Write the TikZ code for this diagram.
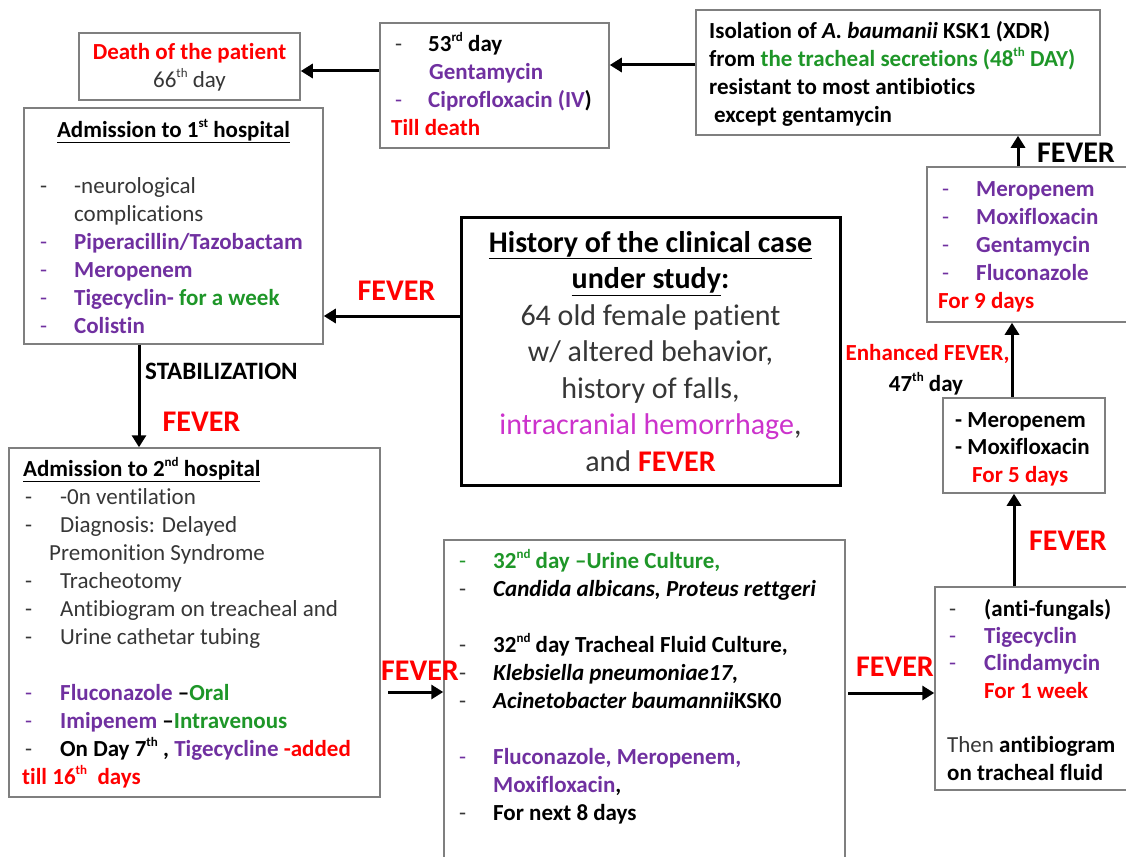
\documentclass[tikz,border=0pt]{standalone}
\usepackage{fontspec}
\setmainfont{Carlito}[Ligatures={TeX,NoCommon}]
\usetikzlibrary{arrows.meta}
\definecolor{pur}{HTML}{7030A0}
\definecolor{grn}{HTML}{1E9628}
\definecolor{rd}{HTML}{FF0000}
\definecolor{mag}{HTML}{CC33CC}
\definecolor{txtg}{HTML}{363636}
\definecolor{bord}{HTML}{7F7F7F}
\newcommand\dsh[2][34pt]{\makebox[#1][l]{\mdseries\color{#2}-}}
\newcommand\st[1]{\rule{0pt}{#1}}
\newcommand\sups[1]{\raisebox{0.42em}{\fontsize{13}{13}\selectfont #1}}
\newcommand\tbk[1]{{\bfseries\color{black}#1}}
\newcommand\tbp[1]{{\bfseries\color{pur}#1}}
\newcommand\tbr[1]{{\bfseries\color{rd}#1}}
\newcommand\tbg[1]{{\bfseries\color{grn}#1}}
\begin{document}
\begin{tikzpicture}[x=1pt,y=-1pt,
  box/.style={draw=bord, line width=1.5pt, inner sep=0pt, rectangle},
  txt/.style={inner sep=0pt, align=left, anchor=north west, font=\fontsize{23}{28}\selectfont, text=txtg},
  lab/.style={inner sep=0pt, font=\fontsize{30}{36}\selectfont\bfseries, text=rd},
  arr/.style={line width=3pt, -{Triangle[length=12pt,width=14pt]}}]
\useasboundingbox (0,0) rectangle (1126,856);
% boxes
\node[box, minimum width=221, minimum height=67] (death) at (189.5,66.5) {};
\node[box, minimum width=299, minimum height=236] (h1) at (173.5,226) {};
\node[box, minimum width=229, minimum height=125] (b53) at (494.5,85.5) {};
\node[box, minimum width=404, minimum height=125] (iso) at (898,72.5) {};
\node[box, minimum width=208, minimum height=155] (d4) at (1031,244.5) {};
\node[box, draw=black, line width=3pt, minimum width=379, minimum height=268] (hist) at (650.5,351) {};
\node[box, minimum width=371, minimum height=349] (h2) at (194.5,622.5) {};
\node[box, minimum width=401, minimum height=335] (mid) at (644.5,707.5) {};
\node[box, minimum width=205, minimum height=203] (rb) at (1037.5,688.5) {};
\node[box, minimum width=162, minimum height=95] (mm) at (1024,445.5) {};
% texts
\node[txt, anchor=north, align=center] (tdeath) at (189.5,37) {\st{22pt}\tbr{Death of the patient}\\66\sups{th}\ day};
\node[txt, anchor=north, align=center] (th1) at (173.5,115) {\st{22pt}\tbk{\underline{Admission to 1\sups{st} hospital}}};
\node[txt] (lh1) at (40,171) {\st{22pt}\dsh{txtg}-neurological\\\hspace*{34pt}complications\\\dsh{pur}\tbp{Piperacillin/Tazobactam}\\\dsh{pur}\tbp{Meropenem}\\\dsh{pur}\tbp{Tigecyclin-} \tbg{for a week}\\\dsh{pur}\tbp{Colistin}};
\node[txt] (tb53) at (395,29) {\st{22pt}\dsh[33pt]{txtg}\tbk{53\sups{rd} day}\\\hspace*{34pt}\tbp{Gentamycin}\\\dsh[33pt]{pur}\tbp{Ciprofloxacin (IV\textcolor{black}{)}}\\\hspace*{-4pt}\tbr{Till death}};
\node[txt] (tiso) at (709,16) {\st{22pt}\tbk{Isolation of \textit{A. baumanii} KSK1 (XDR)}\\\tbk{from} \tbg{the tracheal secretions (48\sups{th} DAY)}\\\tbk{resistant to most antibiotics}\\\hspace*{5pt}\tbk{except gentamycin}};
\node[txt] (td4) at (942,174) {\st{22pt}\dsh{pur}\tbp{Meropenem}\\\dsh{pur}\tbp{Moxifloxacin}\\\dsh{pur}\tbp{Gentamycin}\\\dsh{pur}\tbp{Fluconazole}\\\hspace*{-4pt}\tbr{For 9 days}};
\node[txt, anchor=north, align=center, font=\fontsize{30}{36.5}\selectfont] (thist) at (650.5,224) {\st{28pt}\tbk{\underline{History of the clinical case}}\\\tbk{\underline{under study}:}\\64 old female patient\\w/ altered behavior,\\history of falls,\\\textcolor{mag}{intracranial hemorrhage},\\and \tbr{FEVER}};
\node[txt] (th2) at (23,454) {\st{22pt}\tbk{\underline{Admission to 2\sups{nd} hospital}}\\\hspace*{2pt}\dsh[35pt]{txtg}-0n ventilation\\\hspace*{2pt}\dsh[35pt]{txtg}Diagnosis: Delayed\\\hspace*{26pt}Premonition Syndrome\\\hspace*{2pt}\dsh[35pt]{txtg}Tracheotomy\\\hspace*{2pt}\dsh[35pt]{txtg}Antibiogram on treacheal and\\\hspace*{2pt}\dsh[35pt]{txtg}Urine cathetar tubing\\~\\\hspace*{2pt}\dsh[35pt]{pur}\tbp{Fluconazole} \tbk{–}\tbg{Oral}\\\hspace*{2pt}\dsh[35pt]{pur}\tbp{Imipenem} \tbk{–}\tbg{Intravenous}\\\hspace*{2pt}\dsh[35pt]{txtg}\tbk{On Day 7\sups{th} ,} \tbp{Tigecycline} \tbr{-added}\\\hspace*{-1pt}\tbr{till 16\sups{th}\ \ days}};
\node[txt] (tmid) at (459,546) {\st{22pt}\dsh{grn}\tbg{32\sups{nd} day –Urine Culture,}\\\dsh{txtg}\tbk{\itshape Candida albicans, Proteus rettgeri}\\~\\\dsh{txtg}\tbk{32\sups{nd} day Tracheal Fluid Culture,}\\\dsh{txtg}\tbk{\itshape Klebsiella pneumoniae17,}\\\dsh{txtg}\tbk{\textit{Acinetobacter baumannii}KSK0}\\~\\\dsh{pur}\tbp{Fluconazole, Meropenem,}\\\hspace*{34pt}\tbp{Moxifloxacin}\tbk{,}\\\dsh{txtg}\tbk{For next 8 days}};
\node[txt, font=\fontsize{23}{27.3}\selectfont] (trb) at (949,594) {\st{22pt}\dsh[35pt]{txtg}\tbk{(anti-fungals)}\\\dsh[35pt]{pur}\tbp{Tigecyclin}\\\dsh[35pt]{pur}\tbp{Clindamycin}\\\hspace*{35pt}\tbr{For 1 week}\\~\\\hspace*{-2pt}Then \tbk{antibiogram}\\\hspace*{-2pt}\tbk{on tracheal fluid}};
\node[txt, font=\fontsize{23}{27.5}\selectfont] (tmm) at (955,405) {\st{22pt}\tbk{- Meropenem}\\\tbk{- Moxifloxacin}\\\hspace*{17pt}\tbr{For 5 days}};
% labels
\node[lab] (f1) at (396.5,291) {FEVER};
\node[lab, font=\fontsize{25}{30}\selectfont\bfseries, text=black, anchor=west] (stab) at (145,371) {STABILIZATION};
\node[lab] (f2) at (201.5,422) {FEVER};
\node[lab] (f3) at (420,671) {FEVER};
\node[lab] (f4) at (895,667) {FEVER};
\node[lab] (f5) at (1068,541) {FEVER};
\node[lab, font=\fontsize{23}{28}\selectfont\bfseries] (enh) at (927.5,354) {Enhanced FEVER,};
\node[lab, font=\fontsize{23}{28}\selectfont\bfseries, text=black] (d47) at (926,384) {47\sups{th} day};
\node[lab, text=black] (f6) at (1076,153) {FEVER};
% connectors
\coordinate (a1) at (388,692);
\coordinate (a2) at (848,693);
\draw[arr] ([yshift=7.5pt]iso.west) -- ([yshift=7.5pt]iso.west -| b53.east);
\draw[arr] ([yshift=14.5pt]b53.west) -- ([yshift=14.5pt]b53.west -| death.east);
\draw[arr] ([yshift=35pt]hist.west) -- ([yshift=35pt]hist.west -| h1.east);
\draw[arr] ([xshift=-34.5pt]h1.south) -- ([xshift=-34.5pt]h1.south |- h2.north);
\draw[arr] (a1) -- (a1 -| mid.west);
\draw[arr] (a2) -- (a2 -| rb.west);
\draw[arr] ([xshift=-10pt]mm.south |- rb.north) -- ([xshift=-10pt]mm.south);
\draw[arr] ([xshift=-12pt]mm.north) -- ([xshift=-12pt]mm.north |- d4.south);
\draw[arr] ([xshift=120pt]iso.south |- d4.north) -- ([xshift=120pt]iso.south);
\end{tikzpicture}
\end{document}
